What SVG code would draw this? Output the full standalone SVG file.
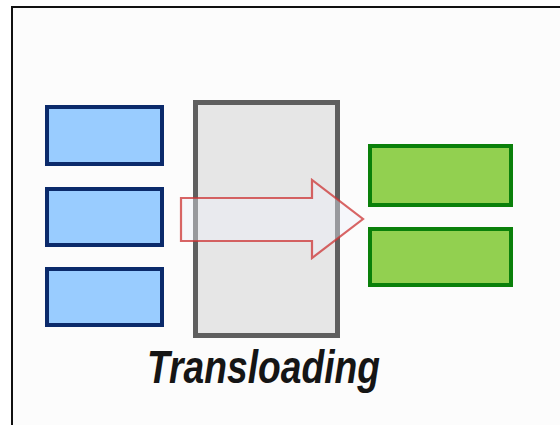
<svg xmlns="http://www.w3.org/2000/svg" width="560" height="425" viewBox="0 0 560 425">
  <style>
    .blue { fill: #99ccff; stroke: #0b2a6b; stroke-width: 4; }
    .green { fill: #92d050; stroke: #0a800a; stroke-width: 4; }
    .bay { fill: #e6e6e6; stroke: #5f5f5f; stroke-width: 5; }
    .label { font-family: "Liberation Sans", Arial, sans-serif; font-style: italic; font-weight: bold; font-size: 46px; fill: #151515; }
  </style>
  <rect x="0" y="0" width="560" height="425" fill="#ffffff"/>
  <rect id="frame" x="12" y="7" width="570" height="440" fill="#fcfcfc" stroke="#111111" stroke-width="2"/>
  <g id="in1"><rect class="blue" x="47" y="107" width="115" height="57"/></g>
  <g id="in2"><rect class="blue" x="47" y="189" width="115" height="56"/></g>
  <g id="in3"><rect class="blue" x="47" y="269" width="115" height="56"/></g>
  <g id="bay"><rect class="bay" x="195.5" y="102.5" width="142" height="233"/></g>
  <g id="out1"><rect class="green" x="370" y="146" width="141" height="59"/></g>
  <g id="out2"><rect class="green" x="370" y="229" width="141" height="56"/></g>
  <g id="connectors">
    <polygon points="181,198 312,198 312,180 363,219 312,258 312,241 181,241" fill="#eef0fa" fill-opacity="0.4" stroke="#cc3333" stroke-opacity="0.75" stroke-width="2.2" stroke-linejoin="miter"/>
  </g>
  <g id="caption">
    <text class="label" x="147" y="383" textLength="233" lengthAdjust="spacingAndGlyphs">Transloading</text>
  </g>
</svg>
